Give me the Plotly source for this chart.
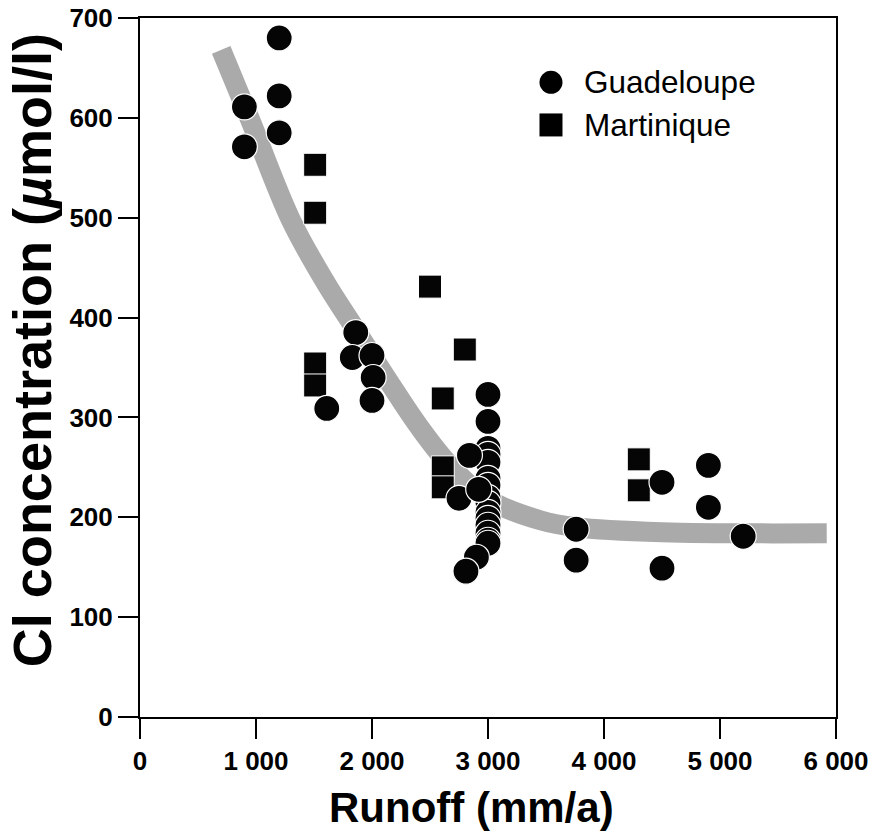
import plotly.graph_objects as go

# Guadeloupe (circles)
gua_x = [900, 900, 1200, 1200, 1200,
         1860, 1830, 2000, 2010, 2000, 1610,
         3000, 3000, 3000, 3000, 3000, 3000, 3000, 3000, 3000, 3000, 3000, 3000, 3000, 3000, 3000,
         2840, 2750, 2920, 2900, 2810,
         3760, 3760, 4500, 4500, 4900, 4900, 5200]
gua_y = [611, 571, 680, 622, 585,
         385, 360, 362, 340, 317, 309,
         323, 296, 269, 263, 255, 239, 232, 220, 214, 205, 199, 192, 184, 177, 174,
         262, 219, 228, 160, 146,
         188, 157, 235, 149, 252, 210, 181]

# Martinique (squares)
mar_x = [1510, 1510, 1510, 1510, 2500, 2800, 2610, 2610, 2610, 4300, 4300]
mar_y = [553, 505, 354, 332, 431, 368, 319, 250, 230, 258, 227]

# Trend band
curve_x = [700, 950, 1300, 1600, 1870, 2150, 2410, 2670, 3000, 3450, 3760, 4500, 5920]
curve_y = [668, 598, 498, 435, 386, 335, 290, 252, 218, 197, 190, 185, 184]

x_ticks = [0, 1000, 2000, 3000, 4000, 5000, 6000]
x_ticktext = ["0", "1 000", "2 000", "3 000", "4 000", "5 000", "6 000"]
y_ticks = [0, 100, 200, 300, 400, 500, 600, 700]

FONT = "Liberation Sans"

fig = go.Figure()
fig.add_trace(go.Scatter(x=curve_x, y=curve_y, mode="lines",
                         line=dict(color="#aaaaaa", width=20, shape="spline", smoothing=1.0),
                         showlegend=False, hoverinfo="skip"))
fig.add_trace(go.Scatter(x=mar_x, y=mar_y, mode="markers", name="Martinique",
                         marker=dict(symbol="square", size=23, color="#050505",
                                     line=dict(color="white", width=1)),
                         showlegend=False))
fig.add_trace(go.Scatter(x=gua_x, y=gua_y, mode="markers", name="Guadeloupe",
                         marker=dict(symbol="circle", size=26, color="#050505",
                                     line=dict(color="white", width=1.2)),
                         showlegend=False))

# Custom legend
fig.add_shape(type="circle", xref="paper", yref="paper", xsizemode="pixel", ysizemode="pixel",
              xanchor=0.5905, yanchor=0.908, x0=-11.5, x1=11.5, y0=-11.5, y1=11.5,
              fillcolor="black", line=dict(width=0))
fig.add_shape(type="rect", xref="paper", yref="paper", xsizemode="pixel", ysizemode="pixel",
              xanchor=0.5905, yanchor=0.847, x0=-11.5, x1=11.5, y0=-11.5, y1=11.5,
              fillcolor="black", line=dict(width=0))
fig.add_annotation(text="Guadeloupe", xref="paper", yref="paper", x=0.6345, y=0.908,
                   xanchor="left", yanchor="middle", showarrow=False,
                   font=dict(family=FONT, size=31.5, color="black"))
fig.add_annotation(text="Martinique", xref="paper", yref="paper", x=0.6345, y=0.847,
                   xanchor="left", yanchor="middle", showarrow=False,
                   font=dict(family=FONT, size=31.5, color="black"))

# Axis titles
fig.add_annotation(text="<b>Runoff (mm/a)</b>", xref="paper", yref="paper", x=0.477, y=-0.130,
                   xanchor="center", yanchor="middle", showarrow=False,
                   font=dict(family=FONT, size=42, color="black"))
fig.add_annotation(text="<b>Cl concentration (<i>µ</i>mol/l)</b>", xref="paper", yref="paper",
                   x=-0.155, y=0.525, xanchor="center", yanchor="middle", showarrow=False,
                   textangle=-90, font=dict(family=FONT, size=54, color="black"))

fig.update_layout(
    width=871, height=838,
    margin=dict(l=140, r=35, t=18, b=121, autoexpand=False),
    paper_bgcolor="white", plot_bgcolor="white",
    font=dict(family=FONT, color="black"),
    xaxis=dict(range=[0, 6000], tickvals=x_ticks, ticktext=x_ticktext, automargin=False,
               showgrid=False, zeroline=False, showline=True, linecolor="black", linewidth=2,
               mirror=True, ticks="outside", ticklen=20, tickwidth=2, tickcolor="black",
               tickfont=dict(family=FONT, size=26, weight="bold")),
    yaxis=dict(range=[0, 700], tickvals=y_ticks, automargin=False,
               showgrid=False, zeroline=False, showline=True, linecolor="black", linewidth=2,
               mirror=True, ticks="outside", ticklen=20, tickwidth=2, tickcolor="black",
               tickfont=dict(family=FONT, size=26, weight="bold")),
)

fig.write_html("out.html")
